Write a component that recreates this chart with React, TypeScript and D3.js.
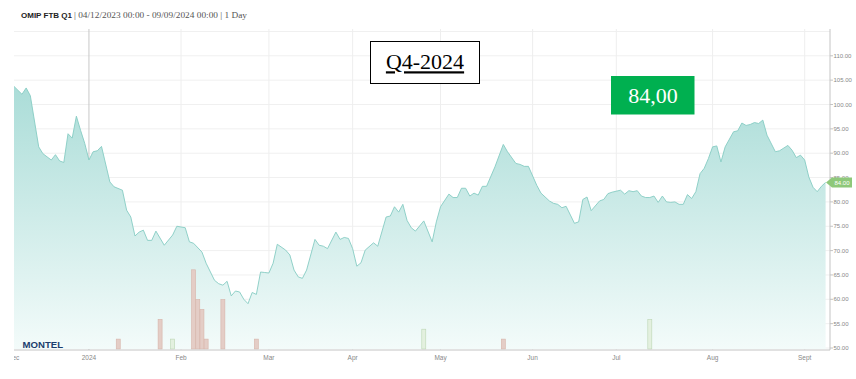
import React from 'react';
import * as d3 from 'd3';

const START = '2023-12-04';
const END = '2024-09-09';
const HOLIDAYS = ['2023-12-25', '2023-12-26', '2024-01-01', '2024-03-29', '2024-04-01', '2024-05-01'];

const priceDates = [
  '2023-12-04', '2023-12-06', '2023-12-07', '2023-12-08', '2023-12-12', '2023-12-13', '2023-12-15', '2023-12-18',
  '2023-12-19', '2023-12-20', '2023-12-21', '2023-12-22', '2023-12-27', '2023-12-28', '2023-12-29', '2024-01-02',
  '2024-01-03', '2024-01-04', '2024-01-05', '2024-01-09', '2024-01-10', '2024-01-12', '2024-01-15', '2024-01-16',
  '2024-01-17', '2024-01-18', '2024-01-19', '2024-01-22', '2024-01-23', '2024-01-24', '2024-01-26', '2024-01-30',
  '2024-01-31', '2024-02-02', '2024-02-05', '2024-02-06', '2024-02-08', '2024-02-09', '2024-02-13', '2024-02-14',
  '2024-02-15', '2024-02-16', '2024-02-19', '2024-02-20', '2024-02-21', '2024-02-22', '2024-02-23', '2024-02-26',
  '2024-02-27', '2024-02-28', '2024-02-29', '2024-03-01', '2024-03-04', '2024-03-05', '2024-03-07', '2024-03-08',
  '2024-03-11', '2024-03-12', '2024-03-13', '2024-03-14', '2024-03-18', '2024-03-19', '2024-03-20', '2024-03-21',
  '2024-03-25', '2024-03-26', '2024-03-27', '2024-03-28', '2024-04-02', '2024-04-03', '2024-04-04', '2024-04-05',
  '2024-04-09', '2024-04-10', '2024-04-12', '2024-04-15', '2024-04-16', '2024-04-17', '2024-04-18', '2024-04-19',
  '2024-04-22', '2024-04-23', '2024-04-25', '2024-04-29', '2024-04-30', '2024-05-02', '2024-05-06', '2024-05-07',
  '2024-05-08', '2024-05-09', '2024-05-10', '2024-05-13', '2024-05-14', '2024-05-15', '2024-05-16', '2024-05-17',
  '2024-05-21', '2024-05-23', '2024-05-24', '2024-05-28', '2024-05-29', '2024-05-30', '2024-05-31', '2024-06-04',
  '2024-06-05', '2024-06-07', '2024-06-10', '2024-06-11', '2024-06-12', '2024-06-13', '2024-06-17', '2024-06-18',
  '2024-06-19', '2024-06-20', '2024-06-21', '2024-06-25', '2024-06-26', '2024-06-27', '2024-06-28', '2024-07-02',
  '2024-07-03', '2024-07-04', '2024-07-05', '2024-07-08', '2024-07-09', '2024-07-10', '2024-07-11', '2024-07-12',
  '2024-07-15', '2024-07-16', '2024-07-17', '2024-07-18', '2024-07-19', '2024-07-22', '2024-07-23', '2024-07-24',
  '2024-07-25', '2024-07-26', '2024-07-29', '2024-07-30', '2024-07-31', '2024-08-01', '2024-08-02', '2024-08-05',
  '2024-08-06', '2024-08-08', '2024-08-09', '2024-08-12', '2024-08-13', '2024-08-14', '2024-08-15', '2024-08-16',
  '2024-08-19', '2024-08-20', '2024-08-22', '2024-08-23', '2024-08-27', '2024-08-28', '2024-08-29', '2024-08-30',
  '2024-09-02', '2024-09-03', '2024-09-04', '2024-09-05', '2024-09-06', '2024-09-09',
];

const priceValues = [
  103.8, 102.1, 103.4, 101.8, 91.3, 89.9, 88.6, 89.7,
  88.4, 88.1, 94.0, 93.1, 97.6, 94.7, 92.0, 88.6,
  90.3, 90.5, 91.4, 84.1, 83.1, 82.4, 78.3, 76.9,
  73.0, 73.8, 74.2, 72.1, 72.1, 74.0, 71.1, 73.2,
  75.0, 74.7, 71.8, 71.5, 69.7, 67.4, 63.9, 63.2,
  62.9, 63.7, 60.7, 61.7, 61.5, 60.0, 59.1, 61.4,
  61.0, 65.6, 65.5, 65.4, 67.4, 71.3, 70.1, 69.1,
  66.0, 64.6, 64.3, 66.0, 72.3, 71.1, 70.9, 70.4,
  73.8, 72.3, 72.7, 72.5, 70.4, 66.8, 67.5, 70.1,
  71.6, 70.9, 76.9, 77.1, 79.0, 77.9, 79.5, 76.2,
  74.7, 74.0, 76.1, 71.8, 75.9, 79.0, 81.6, 80.9,
  80.9, 82.8, 82.8, 81.2, 81.8, 81.4, 83.2, 83.2,
  87.2, 91.8, 90.3, 87.9, 87.7, 87.3, 87.3, 83.4,
  81.8, 80.2, 79.7, 79.5, 78.8, 79.1, 75.6, 75.9,
  80.5, 81.0, 78.2, 80.2, 80.5, 81.7, 82.0, 82.4,
  81.6, 82.3, 82.1, 82.3, 81.2, 80.9, 80.9, 81.2,
  79.9, 81.2, 80.0, 79.9, 80.0, 79.5, 79.5, 81.5,
  80.7, 82.1, 85.8, 86.9, 88.9, 91.3, 91.5, 88.2,
  91.3, 94.4, 94.6, 96.2, 95.7, 95.9, 96.3, 96.1,
  96.8, 93.7, 90.3, 90.5, 91.6, 90.6, 89.1, 89.6,
  88.6, 85.1, 83.0, 82.1, 83.2, 84.0,
];

const volumeDates = [
  '2024-01-11', '2024-01-25', '2024-01-30', '2024-02-06', '2024-02-07', '2024-02-08',
  '2024-02-09', '2024-02-15', '2024-02-27', '2024-04-25', '2024-05-23', '2024-07-11',
];
const volumeValues = [1, 3, 1, 8, 5, 4, 1, 5, 1, 2, 1, 3];
const volumeSides = ['sell', 'sell', 'buy', 'sell', 'sell', 'sell', 'sell', 'sell', 'sell', 'buy', 'sell', 'buy'];

const yTicks = [50, 55, 60, 65, 70, 75, 80, 85, 90, 95, 100, 105, 110];
const monthKeys = ['2023-12', '2024-01', '2024-02', '2024-03', '2024-04', '2024-05', '2024-06', '2024-07', '2024-08', '2024-09'];
const monthLabels = ['Dec', '2024', 'Feb', 'Mar', 'Apr', 'May', 'Jun', 'Jul', 'Aug', 'Sept'];
const lastPrice = 84.0;
const titleBold = 'OMIP FTB Q1';
const titleRest = '| 04/12/2023 00:00 - 09/09/2024 00:00 | 1 Day';
const contractLabel = 'Q4-2024';
const priceBoxLabel = '84,00';

const fmt = d3.timeFormat('%Y-%m-%d');
const parse = d3.timeParse('%Y-%m-%d');

export default function App() {
  const W = 856;
  const H = 379;
  const left = 14;
  const right = 830;
  const top = 29;
  const bottom = 350;

  const tradingDays = d3
    .timeDay.range(parse(START) as Date, d3.timeDay.offset(parse(END) as Date, 1))
    .filter((d) => d.getDay() !== 0 && d.getDay() !== 6 && !HOLIDAYS.includes(fmt(d)))
    .map(fmt);
  const idx = new Map(tradingDays.map((d, i) => [d, i] as [string, number]));

  const x = d3.scaleLinear().domain([0, tradingDays.length - 1]).range([13.6, 825.6]);
  const y = d3.scaleLinear().domain([50, 115]).range([348, 31.45]);
  const v = d3.scaleLinear().domain([0, 10]).range([349, 250]);

  const data = priceDates.map((d, i) => ({ i: idx.get(d) as number, v: priceValues[i] }));
  const area = d3
    .area<{ i: number; v: number }>()
    .x((d) => x(d.i))
    .y0(349)
    .y1((d) => y(d.v));
  const line = d3
    .line<{ i: number; v: number }>()
    .x((d) => x(d.i))
    .y((d) => y(d.v));

  const monthPos = monthKeys.map((k) => {
    const first = tradingDays.find((d) => d.startsWith(k)) as string;
    return x(idx.get(first) as number);
  });

  const axisFont = 'Liberation Sans, Arial, sans-serif';
  const lastY = y(lastPrice);

  return (
    <svg
      width={W}
      height={H}
      style={{ position: 'absolute', left: 0, top: 0, background: '#fff' }}
      xmlns="http://www.w3.org/2000/svg"
    >
      <defs>
        <linearGradient id="areaGrad" gradientUnits="userSpaceOnUse" x1="0" y1="80" x2="0" y2="349">
          <stop offset="0" stopColor="#a9dcd7" />
          <stop offset="1" stopColor="#f3fbfa" />
        </linearGradient>
        <clipPath id="plotClip">
          <rect x={left} y={0} width={right - left} height={H} />
        </clipPath>
      </defs>
      <rect x={0} y={0} width={W} height={H} fill="#fff" />

      {/* title */}
      <text x={21} y={18} fontFamily={axisFont} fontSize={8} fontWeight="bold" fill="#222">
        {titleBold}
      </text>
      <text
        x={74}
        y={18}
        fontFamily="Liberation Serif, Georgia, serif"
        fontSize={9}
        fill="#555"
        textLength={173}
        lengthAdjust="spacingAndGlyphs"
      >
        {titleRest}
      </text>

      {/* horizontal grid */}
      {yTicks.concat([115]).map((t) => (
        <line key={'h' + t} x1={left} x2={right} y1={y(t)} y2={y(t)} stroke="#f0f0f0" strokeWidth={1} />
      ))}
      {/* vertical grid */}
      {monthPos.map((p, i) =>
        i === 0 ? null : (
          <line
            key={'v' + i}
            x1={p}
            x2={p}
            y1={top}
            y2={bottom}
            stroke={i === 1 ? '#c8c8c8' : '#eeeeee'}
            strokeWidth={1}
          />
        )
      )}

      {/* area and line */}
      <g clipPath="url(#plotClip)">
        <path d={area(data) as string} fill="url(#areaGrad)" />
        <path d={line(data) as string} fill="none" stroke="#86ccc3" strokeWidth={0.9} />
      </g>

      {/* volume bars */}
      {volumeDates.map((d, i) => {
        const cx = x(idx.get(d) as number);
        const sell = volumeSides[i] === 'sell';
        return (
          <rect
            key={'b' + i}
            x={cx - 2}
            y={v(volumeValues[i])}
            width={4}
            height={349 - v(volumeValues[i])}
            fill={sell ? '#e4cdc6' : '#e3f0df'}
            stroke={sell ? '#d7b4aa' : '#bcd6b4'}
            strokeWidth={0.6}
          />
        );
      })}

      {/* logo */}
      <text x={22.5} y={347.8} fontFamily="Liberation Sans, Arial, sans-serif" fontWeight="bold" fontSize={9.6} fill="#1b3d6d">
        MONTEL
      </text>

      {/* axes */}
      <line x1={left} x2={right} y1={bottom} y2={bottom} stroke="#c4c4c4" strokeWidth={1} />
      <line x1={right} x2={right} y1={top} y2={bottom} stroke="#c4c4c4" strokeWidth={1} />
      {yTicks.map((t) => (
        <g key={'yt' + t}>
          <line x1={right} x2={right + 3} y1={y(t)} y2={y(t)} stroke="#c4c4c4" />
          <text x={right + 3.5} y={y(t) + 2.1} fontFamily={axisFont} fontSize={6} fill="#888">
            {d3.format('.2f')(t)}
          </text>
        </g>
      ))}
      <g clipPath="url(#plotClip)">
        {monthPos.map((p, i) => (
          <text
            key={'xt' + i}
            x={p}
            y={360}
            textAnchor="middle"
            fontFamily={axisFont}
            fontSize={6.5}
            fill="#888"
          >
            {monthLabels[i]}
          </text>
        ))}
      </g>

      {/* last price tag */}
      <path
        d={`M${right - 4},${lastY} L${right + 2},${lastY - 5} L${right + 22},${lastY - 5} L${right + 22},${lastY + 5} L${right + 2},${lastY + 5} Z`}
        fill="#8ec87a"
      />
      <text x={right + 12} y={lastY + 2.1} textAnchor="middle" fontFamily={axisFont} fontSize={6} fill="#fff">
        {d3.format('.2f')(lastPrice)}
      </text>

      {/* contract box */}
      <rect x={370.5} y={41.5} width={109} height={42} fill="#fff" stroke="#000" strokeWidth={1} />
      <text
        x={425}
        y={69.3}
        textAnchor="middle"
        fontFamily="Liberation Serif, Cambria, serif"
        fontSize={22}
        fill="#000"
        textDecoration="underline"
      >
        {contractLabel}
      </text>

      {/* price box */}
      <rect x={611} y={76} width={83.5} height={38.5} fill="#00b050" />
      <text
        x={653}
        y={103.3}
        textAnchor="middle"
        fontFamily="Liberation Serif, Cambria, serif"
        fontSize={22}
        fill="#fff"
      >
        {priceBoxLabel}
      </text>
    </svg>
  );
}
